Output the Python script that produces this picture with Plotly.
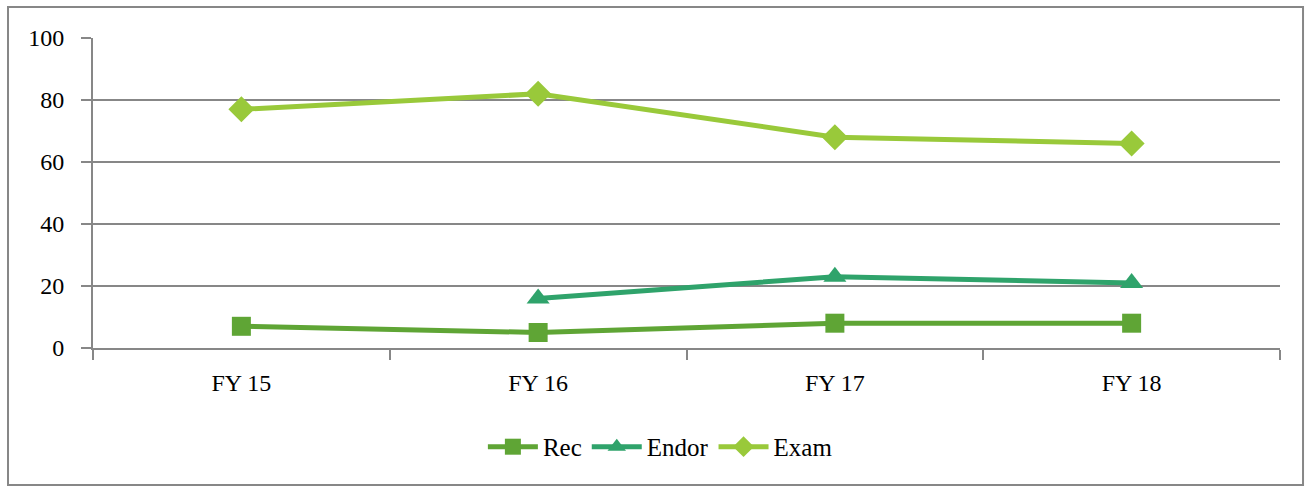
import plotly.graph_objects as go

years = ["FY 15", "FY 16", "FY 17", "FY 18"]
rec = [7, 5, 8, 8]
endor = [None, 16, 23, 21]
exam = [77, 82, 68, 66]

series = [
    ("Rec", rec, "#5fa535", "square", 19),
    ("Endor", endor, "#2fa36b", "triangle-up", 20),
    ("Exam", exam, "#99c93a", "diamond", 20),
]

fig = go.Figure()
for name, vals, color, sym, size in series:
    fig.add_trace(go.Scatter(
        x=years, y=vals, name=name, mode="lines+markers",
        line=dict(color=color, width=5),
        marker=dict(symbol=sym, size=size, color=color),
    ))

GRID = "#878787"
fig.update_layout(
    width=1311, height=489,
    paper_bgcolor="white", plot_bgcolor="white",
    font=dict(family="Liberation Serif, serif", size=24, color="black"),
    margin=dict(l=93, r=31, t=38, b=141),
    showlegend=True,
    legend=dict(orientation="h", x=0.478, xanchor="center", y=-0.245, yanchor="top",
                font=dict(size=25), itemwidth=50, tracegroupgap=0),
    xaxis=dict(
        type="category", range=[-0.5, 3.5], showgrid=False,
        showline=True, linecolor=GRID, linewidth=2,
        ticks="outside", tickson="boundaries", ticklen=10, tickcolor=GRID, tickwidth=2,
        ticklabelstandoff=12,
    ),
    yaxis=dict(
        range=[0, 100], dtick=20, showgrid=True, gridcolor=GRID, gridwidth=2,
        zeroline=False, showline=True, linecolor=GRID, linewidth=2,
        ticks="outside", ticklen=10, tickcolor=GRID, tickwidth=2,
        ticklabelstandoff=12,
    ),
    shapes=[dict(type="rect", xref="paper", yref="paper",
                 x0=-0.0716, x1=1.0194, y0=-0.442, y1=1.1,
                 line=dict(color=GRID, width=2))],
)

fig.write_html("out.html", config={"displayModeBar": False},
               post_script="document.body.style.margin='0';")
